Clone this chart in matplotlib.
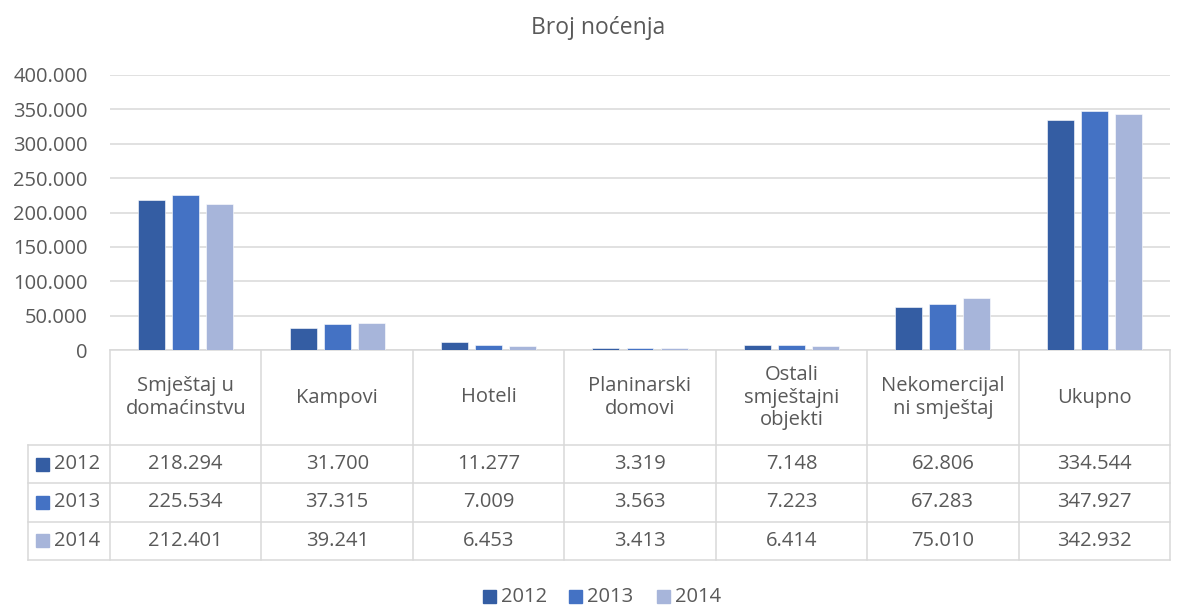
import numpy as np
import matplotlib.pyplot as plt
from matplotlib.ticker import FuncFormatter

# --- data ---
categories = ["Smještaj u\ndomaćinstvu", "Kampovi", "Hoteli", "Planinarski\ndomovi",
              "Ostali\nsmještajni\nobjekti", "Nekomercijal\nni smještaj", "Ukupno"]
years = ["2012", "2013", "2014"]
v2012 = [218294, 31700, 11277, 3319, 7148, 62806, 334544]
v2013 = [225534, 37315, 7009, 3563, 7223, 67283, 347927]
v2014 = [212401, 39241, 6453, 3413, 6414, 75010, 342932]
series = [v2012, v2013, v2014]
colors = ["#345DA3", "#4472C4", "#A7B5DA"]

plt.rcParams['font.family'] = ['Open Sans', 'DejaVu Sans']
txt = "#595959"
grid = "#D9D9D9"
fs = 14.5
W, H = 1177, 606

fig = plt.figure(figsize=(W / 100, H / 100), dpi=100)

# plot area in pixel terms
x0, x1 = 110, 1170
y_top, y_zero = 75, 350
ax = fig.add_axes([x0 / W, 1 - y_zero / H, (x1 - x0) / W, (y_zero - y_top) / H])

n = len(categories)
x = np.arange(n)
offs = [-0.225, 0, 0.225]
for s, vals in enumerate(series):
    ax.bar(x + offs[s], vals, width=0.178, color=colors[s], edgecolor="white",
           linewidth=0.4, zorder=3)

ax.set_xlim(-0.5, n - 0.5)
ax.set_ylim(0, 400000)
ax.set_yticks(np.arange(0, 400001, 50000))
ax.yaxis.set_major_formatter(FuncFormatter(lambda v, p: "0" if v == 0 else f"{int(v):,}".replace(",", ".")))
ax.tick_params(axis="y", length=0, labelsize=fs, colors=txt, pad=16)
ax.tick_params(axis="x", length=0, labelbottom=False)
ax.grid(axis="y", color=grid, linewidth=1.1, zorder=0)
for sp in ["top", "right", "left"]:
    ax.spines[sp].set_visible(False)
ax.spines["bottom"].set_color(grid)
ax.spines["bottom"].set_linewidth(1.1)

# --- data table drawn in pixel space ---
tab = fig.add_axes([0, 0, 1, 1], zorder=-1)
tab.set_xlim(0, W)
tab.set_ylim(H, 0)
tab.axis("off")

col_w = (x1 - x0) / n
left = 28
hdr_bot = 445
row_h = 38.3
rows_y = [hdr_bot + i * row_h for i in range(4)]
lw = 1.1

for k in range(n + 1):
    tab.plot([x0 + k * col_w] * 2, [y_zero, rows_y[-1]], color=grid, lw=lw)
tab.plot([left, left], [hdr_bot, rows_y[-1]], color=grid, lw=lw)
for yy in rows_y:
    tab.plot([left, x1], [yy, yy], color=grid, lw=lw)

for i, c in enumerate(categories):
    tab.text(x0 + (i + 0.5) * col_w, (y_zero + hdr_bot) / 2, c, ha="center", va="center",
             fontsize=fs, color=txt, linespacing=1.15)

for r, (yr, vals) in enumerate(zip(years, series)):
    yc = rows_y[r] + row_h / 2
    tab.add_patch(plt.Rectangle((36, yc - 6.5), 13, 13, color=colors[r]))
    tab.text(54, yc, yr, ha="left", va="center", fontsize=fs, color=txt)
    for i, v in enumerate(vals):
        tab.text(x0 + (i + 0.5) * col_w, yc, f"{v:,}".replace(",", "."), ha="center",
                 va="center", fontsize=fs, color=txt)

# legend
leg_x = [483, 569, 657]
for r, yr in enumerate(years):
    tab.add_patch(plt.Rectangle((leg_x[r], 590), 13, 13, color=colors[r]))
    tab.text(leg_x[r] + 18, 597, yr, ha="left", va="center", fontsize=fs, color=txt)

fig.text(598 / W, 1 - 28 / H, "Broj noćenja", ha="center", va="center", fontsize=16.5, color=txt)

fig.savefig("out.png", dpi=100)
